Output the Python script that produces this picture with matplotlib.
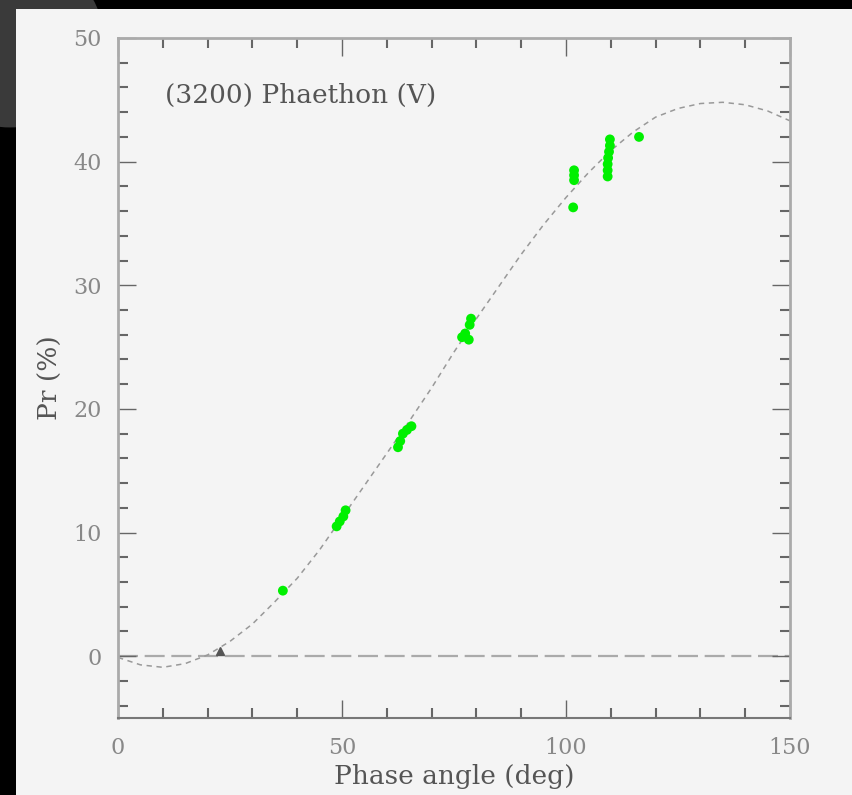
import matplotlib
matplotlib.use("Agg")
import matplotlib.pyplot as plt
from matplotlib.patches import Rectangle, Circle
from matplotlib.ticker import MultipleLocator

# ---- data ----
phase_obs = [36.8,
             48.8, 49.5, 50.3, 50.8,
             62.5, 63.0, 63.6, 64.5, 65.5,
             76.8, 77.5, 78.3, 78.5, 78.8,
             101.8, 101.8, 101.8, 101.6,
             109.8, 109.8, 109.6, 109.4, 109.3, 109.3, 109.3,
             116.3]
pr_obs = [5.3,
          10.5, 10.9, 11.3, 11.8,
          16.9, 17.4, 18.0, 18.3, 18.6,
          25.8, 26.1, 25.6, 26.8, 27.3,
          39.3, 38.9, 38.5, 36.3,
          41.8, 41.3, 40.8, 40.3, 39.8, 39.3, 38.8,
          42.0]

phase_other = [22.8]
pr_other = [0.4]

curve_phase = [0, 5, 10, 15, 20, 25, 30, 35, 40, 45, 50, 55, 60, 65, 70, 75,
               80, 85, 90, 95, 100, 105, 110, 115, 120, 125, 130, 135, 140,
               145, 150]
curve_pr = [-0.1, -0.7, -0.9, -0.6, 0.1, 1.2, 2.6, 4.4, 6.3, 8.6, 11.2, 13.8,
            16.4, 19.0, 21.7, 24.6, 27.3, 29.9, 32.5, 34.9, 37.1, 39.1, 40.9,
            42.4, 43.6, 44.3, 44.7, 44.8, 44.6, 44.1, 43.3]

x_ticks = [0, 50, 100, 150]
y_ticks = [0, 10, 20, 30, 40, 50]
title_text = "(3200) Phaethon (V)"
x_label = "Phase angle (deg)"
y_label = "Pr (%)"

# ---- figure ----
W, H = 853, 795
fig = plt.figure(figsize=(W / 100, H / 100), dpi=100, facecolor="black")
plt.rcParams['font.family'] = ['DejaVu Serif', 'Liberation Serif']

# light panel behind the plot
fig.patches.append(Rectangle((16 / W, 0), 1 - 16 / W, (H - 9) / H,
                             transform=fig.transFigure, facecolor="#f4f4f4",
                             edgecolor="none", zorder=-5))
# dark gray blob in the top-left black corner
fig.patches.append(Circle((10 / W, 1 - 40 / H), 0.11, transform=fig.transFigure,
                          facecolor="#3a3a3a", edgecolor="none", zorder=-6))

ax = fig.add_axes([118 / W, 77 / H, (790 - 118) / W, (718 - 38) / H])
ax.set_zorder(2)
ax.set_facecolor("#f4f4f4")

ax.axhline(0, color="#aaaaaa", lw=1.6, dashes=(9, 3), zorder=1)
ax.plot(curve_phase, curve_pr, color="#999999", lw=1.1, dashes=(3.5, 3.0), zorder=2)
ax.scatter(phase_obs, pr_obs, s=50, color="#00f000", edgecolors="none", zorder=3)
ax.plot(phase_other, pr_other, marker="^", ms=6, color="#555555", ls="none", zorder=3)

ax.set_xlim(0, 150)
ax.set_ylim(-5, 50)
ax.set_xticks(x_ticks)
ax.set_yticks(y_ticks)
ax.xaxis.set_minor_locator(MultipleLocator(10))
ax.yaxis.set_minor_locator(MultipleLocator(2))
ax.tick_params(which="both", direction="in", top=True, right=True,
               colors="#666666", labelcolor="#888888", labelsize=16)
ax.tick_params(axis="x", pad=14)
ax.tick_params(axis="y", pad=12)
ax.tick_params(which="major", length=13, width=1.0)
ax.tick_params(which="minor", length=7, width=1.5)

for side in ["left", "right", "top"]:
    ax.spines[side].set_color("#aaaaaa")
    ax.spines[side].set_linewidth(2.0)
ax.spines["bottom"].set_color("#777777")
ax.spines["bottom"].set_linewidth(1.5)

ax.set_xlabel(x_label, fontsize=19, color="#555555", labelpad=3)
ax.set_ylabel(y_label, fontsize=19, color="#555555", labelpad=7)
ax.text(0.07, 0.915, title_text, transform=ax.transAxes, fontsize=19,
        color="#555555", ha="left", va="center")

fig.savefig("out.png", dpi=100, facecolor=fig.get_facecolor())
